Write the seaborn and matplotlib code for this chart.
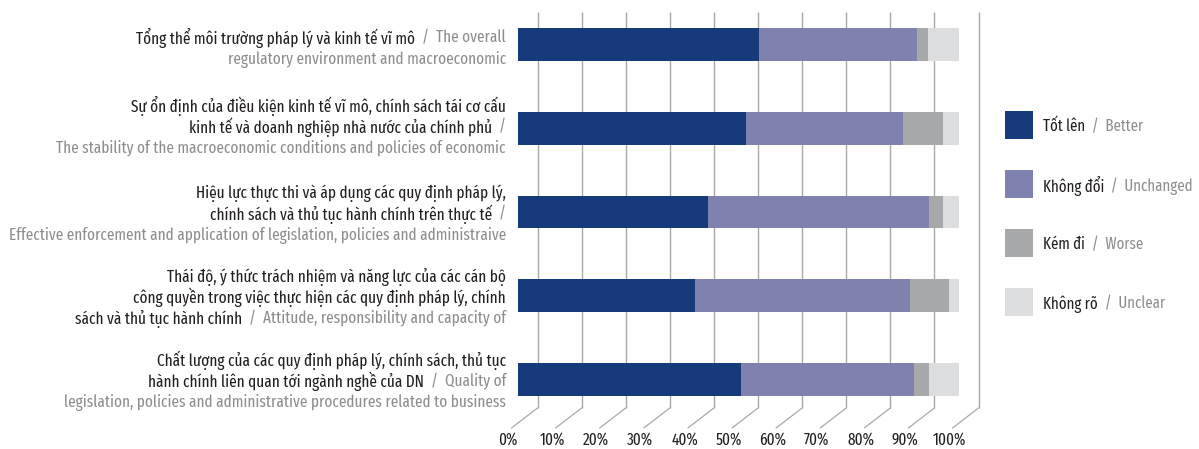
import matplotlib
matplotlib.use("Agg")
import matplotlib.pyplot as plt
from matplotlib import font_manager as fm
from matplotlib.patches import Rectangle
from matplotlib.transforms import ScaledTranslation, blended_transform_factory
import pandas as pd
import seaborn as sns

# ---------------- data ----------------
topics = ["Tổng thể môi trường pháp lý và kinh tế vĩ mô",
          "Sự ổn định của điều kiện kinh tế vĩ mô",
          "Hiệu lực thực thi và áp dụng các quy định",
          "Thái độ, ý thức trách nhiệm của cán bộ công quyền",
          "Chất lượng của các quy định pháp lý"]
better = [54.6, 51.7, 43.1, 40.1, 50.6]
unchanged = [35.8, 35.6, 50.1, 48.8, 39.2]
worse = [2.5, 9.1, 3.2, 8.8, 3.4]
unclear = [7.1, 3.6, 3.6, 2.3, 6.8]

series_vi = ["Tốt lên", "Không đổi", "Kém đi", "Không rõ"]
series_en = ["Better", "Unchanged", "Worse", "Unclear"]

tick_values = [0, 10, 20, 30, 40, 50, 60, 70, 80, 90, 100]
tick_labels = ["0%", "10%", "20%", "30%", "40%", "50%", "60%", "70%", "80%", "90%", "100%"]

VI, EN = "vi", "en"
topic_lines = [
    [[("Tổng thể môi trường pháp lý và kinh tế vĩ mô", VI), ("  /  The overall", EN)],
     [("regulatory environment and macroeconomic", EN)]],
    [[("Sự ổn định của điều kiện kinh tế vĩ mô, chính sách tái cơ cấu", VI)],
     [("kinh tế và doanh nghiệp nhà nước của chính phủ", VI), ("  /", EN)],
     [("The stability of the macroeconomic conditions and policies of economic", EN)]],
    [[("Hiệu lực thực thi và áp dụng các quy định pháp lý,", VI)],
     [("chính sách và thủ tục hành chính trên thực tế", VI), ("  /", EN)],
     [("Effective enforcement and application of legislation, policies and administraive", EN)]],
    [[("Thái độ, ý thức trách nhiệm và năng lực của các cán bộ", VI)],
     [("công quyền trong việc thực hiện các quy định pháp lý, chính", VI)],
     [("sách và thủ tục hành chính", VI), ("  /  Attitude, responsibility and capacity of", EN)]],
    [[("Chất lượng của các quy định pháp lý, chính sách, thủ tục", VI)],
     [("hành chính liên quan tới ngành nghề của DN", VI), ("  /  Quality of", EN)],
     [("legislation, policies and administrative procedures related to business", EN)]],
]

# ---------------- style ----------------
NAVY, LAVENDER, GREY, LIGHT = "#173B7A", "#7F82AE", "#A7A8AA", "#DCDDDF"
TXT_DARK, TXT_GREY = "#231F20", "#8C8E90"
GRID = "#A9A9A9"

sns.set_theme(style="white")
installed = {f.name for f in fm.fontManager.ttflist}
family = next((f for f in ["Fira Sans Extra Condensed", "Fira Sans Condensed", "Roboto Condensed",
                           "Asap Condensed", "Archivo Narrow", "Noto Sans"]
               if f in installed), "DejaVu Sans")
plt.rcParams["font.family"] = [family, "DejaVu Sans"]

W, H, DPI = 1199, 449, 100
fig = plt.figure(figsize=(W / DPI, H / DPI), dpi=DPI)
fig.patch.set_facecolor("white")

# plotting area (pixels measured from the top-left corner)
X0, X1 = 518, 959          # 0% and 100% of the bars
AX_BOTTOM = 431
ax = fig.add_axes([X0 / W, (H - AX_BOTTOM) / H, (X1 - X0) / W, AX_BOTTOM / H])
ax.set_facecolor("none")

# fit the label font so the longest label line spans the label column
renderer = fig.canvas.get_renderer()
probe = fig.text(0, 0, topic_lines[2][2][0][0], fontsize=10)
fs = 10 * 496 / probe.get_window_extent(renderer).width
probe.remove()

# ---------------- stacked bars (drawn as cumulative totals, longest first) ----------------
df = pd.DataFrame({"topic": topics, "better": better, "unchanged": unchanged,
                   "worse": worse, "unclear": unclear})
parts = ["better", "unchanged", "worse", "unclear"]
colors = [NAVY, LAVENDER, GREY, LIGHT]
cum = df[parts].cumsum(axis=1)
for col, color in reversed(list(zip(parts, colors))):
    sns.barplot(x=cum[col], y=df["topic"], orient="h", color=color, saturation=1,
                width=0.394, errorbar=None, linewidth=0, zorder=3, ax=ax)

PX_PER_ROW = 83.75
ROW0_PX = 44.5
def row_of(px):
    return (px - ROW0_PX) / PX_PER_ROW

ax.set_xlim(0, 100)
ax.set_ylim(row_of(AX_BOTTOM), row_of(0))
for s in ax.spines.values():
    s.set_visible(False)
ax.set_xlabel("")
ax.set_ylabel("")
ax.set_yticks([])

# ---------------- back-wall grid with floor diagonals ----------------
px_per_unit = (X1 - X0) / 100
back_dx = 19.5 / px_per_unit
front_dx = -6.5 / px_per_unit
y_top, y_wall, y_front = row_of(12), row_of(408), row_of(428)
for v in tick_values:
    ax.plot([v + back_dx, v + back_dx], [y_top, y_wall], color=GRID, lw=1.0,
            zorder=1, clip_on=False, solid_capstyle="butt")
    ax.plot([v + back_dx, v + front_dx], [y_wall, y_front], color=GRID, lw=0.9,
            zorder=1, clip_on=False)

# ---------------- x tick labels ----------------
ax.set_xticks(tick_values, tick_labels)
ax.tick_params(axis="x", length=0, pad=1.0, labelsize=fs * 1.0, labelcolor=TXT_DARK)
shift = ScaledTranslation(-10 / DPI, 0, fig.dpi_scale_trans)
for lbl in ax.get_xticklabels():
    lbl.set_transform(lbl.get_transform() + shift)

# ---------------- category labels (two colours per line) ----------------
LINE_PX = 21.0
label_tr = blended_transform_factory(fig.transFigure, ax.transData)
RIGHT = 506 / W
block_shift_px = [2, -3, 0, 0, 0]
for i, lines in enumerate(topic_lines):
    n = len(lines)
    for j, segs in enumerate(lines):
        yc = i + (block_shift_px[i] + (j - (n - 1) / 2) * LINE_PX) / PX_PER_ROW
        x = RIGHT
        for text, role in reversed(segs):
            t = fig.text(x, yc, text, transform=label_tr, ha="right", va="center_baseline",
                         fontsize=fs, color=TXT_DARK if role == VI else TXT_GREY)
            x -= t.get_window_extent(renderer).width / W

# ---------------- legend ----------------
leg_y = [125, 184, 243, 302]
leg_fs = fs * 0.98
for vi, en, color, yp in zip(series_vi, series_en, colors, leg_y):
    fig.add_artist(Rectangle((1005 / W, (H - yp - 14) / H), 28 / W, 28 / H,
                             transform=fig.transFigure, facecolor=color, edgecolor="none"))
    t = fig.text(1043 / W, (H - yp) / H, vi, ha="left", va="center_baseline",
                 fontsize=leg_fs, color=TXT_DARK)
    x = 1043 / W + t.get_window_extent(renderer).width / W
    fig.text(x, (H - yp) / H, "  /  " + en, ha="left", va="center_baseline",
             fontsize=leg_fs, color=TXT_GREY)

fig.savefig("out.png", dpi=DPI, facecolor="white")
